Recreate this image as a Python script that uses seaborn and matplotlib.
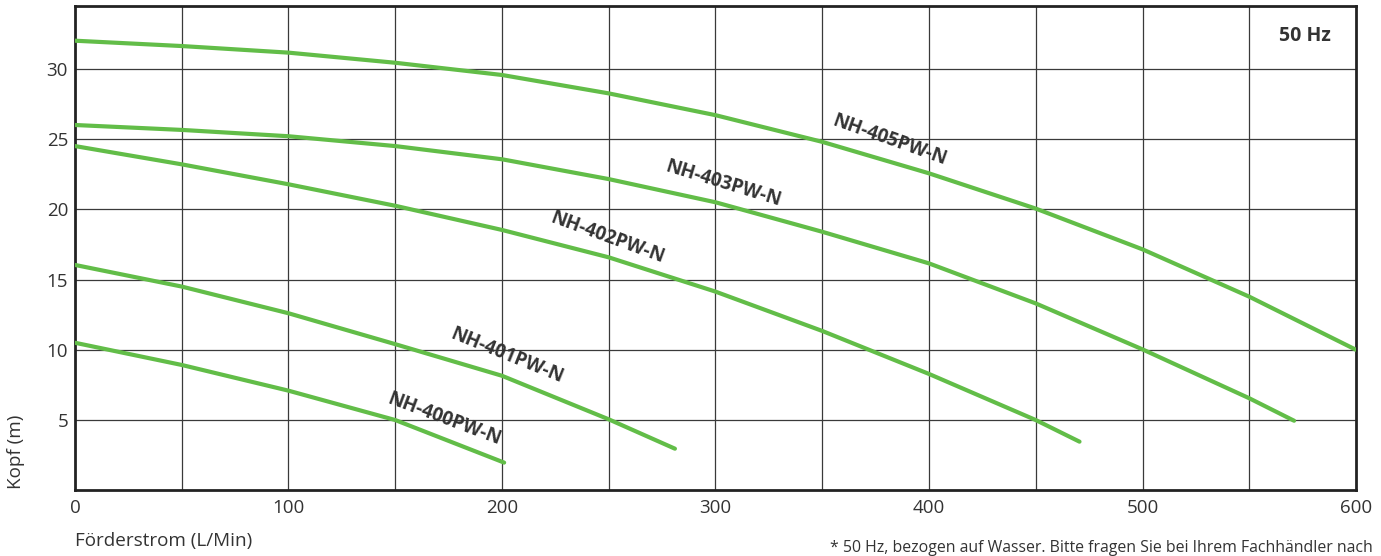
import pandas as pd
import numpy as np
import seaborn as sns
import matplotlib.pyplot as plt

# pump curves: flow (L/min) vs head (m)
q400 = [0, 50, 100, 150, 201]
h400 = [10.5, 8.92, 7.09, 5.0, 1.97]

q401 = [0, 50, 100, 150, 200, 250, 281]
h401 = [16.04, 14.5, 12.6, 10.4, 8.15, 5.05, 2.96]

q402 = [0, 50, 100, 150, 200, 250, 300, 350, 400, 450, 470.5]
h402 = [24.5, 23.2, 21.78, 20.25, 18.53, 16.58, 14.14, 11.34, 8.28, 5.0, 3.46]

q403 = [0, 50, 100, 150, 200, 250, 300, 350, 400, 450, 500, 550, 571]
h403 = [26.0, 25.65, 25.2, 24.5, 23.56, 22.15, 20.5, 18.4, 16.15, 13.3, 10.03, 6.55, 4.95]

q405 = [0, 50, 100, 150, 200, 250, 300, 350, 400, 450, 500, 550, 600]
h405 = [32.0, 31.62, 31.15, 30.43, 29.56, 28.25, 26.7, 24.8, 22.56, 20.05, 17.15, 13.78, 10.0]

models = ['NH-400PW-N', 'NH-401PW-N', 'NH-402PW-N', 'NH-403PW-N', 'NH-405PW-N']
flows = [q400, q401, q402, q403, q405]
heads = [h400, h401, h402, h403, h405]

# label centres (data coords) and angles
label_x = [172.8, 202.1, 249.4, 303.5, 381.3]
label_y = [5.07, 9.56, 18.0, 21.8, 24.93]
label_rot = [-20.5, -22, -20, -17, -19.5]

x_ticks = [0, 100, 200, 300, 400, 500, 600]
y_ticks = [5, 10, 15, 20, 25, 30]

frames = []
for m, q, h in zip(models, flows, heads):
    frames.append(pd.DataFrame({'model': m, 'flow': q, 'head': h}))
df = pd.concat(frames, ignore_index=True)

sns.set_style('white')
plt.rcParams['font.family'] = ['Open Sans', 'DejaVu Sans']

green = '#62bd48'
ink = '#333333'

fig = plt.figure(figsize=(13.81, 5.56), dpi=100)
ax = fig.add_axes([0.0543, 0.1182, 0.9276, 0.8705])

# grid first so curves sit on top
for gx in range(50, 600, 50):
    ax.axvline(gx, color='#3a3a3a', lw=0.9, zorder=1)
for gy in y_ticks:
    ax.axhline(gy, color='#3a3a3a', lw=0.9, zorder=1)

sns.lineplot(data=df, x='flow', y='head', hue='model', units='model',
             estimator=None, sort=False, palette=[green] * 5,
             linewidth=3.0, legend=False, ax=ax, zorder=3)
for ln in ax.lines[-5:]:
    ln.set_solid_joinstyle('round')

for m, lx, ly, r in zip(models, label_x, label_y, label_rot):
    ax.text(lx, ly, m, rotation=r, rotation_mode='anchor', ha='center', va='center',
            fontsize=13.6, fontweight='bold', color=ink, zorder=4)

ax.text(588, 32.3, '50 Hz', ha='right', va='center', fontsize=14,
        fontweight='bold', color=ink)

ax.set_xlim(0, 600)
ax.set_ylim(0, 34.45)
ax.set_xticks(x_ticks)
ax.set_yticks(y_ticks)
ax.tick_params(axis='both', labelsize=13.5, colors=ink, length=3, width=0.9, pad=2)
ax.tick_params(axis='x', length=0, pad=6)
ax.set_xlabel('')
ax.set_ylabel('')
for s in ax.spines.values():
    s.set_visible(True)
    s.set_color('#222222')
    s.set_linewidth(2.0)

fig.text(0.0543, 0.027, 'Förderstrom (L/Min)', ha='left', va='center', fontsize=13.6, color=ink)
fig.text(0.0116, 0.187, 'Kopf (m)', ha='center', va='center', rotation=90, fontsize=13.6, color=ink)
fig.text(0.601, 0.008, '* 50 Hz, bezogen auf Wasser. Bitte fragen Sie bei Ihrem Fachhändler nach',
         ha='left', va='baseline', fontsize=11.4, color=ink)

fig.savefig('out.png', dpi=100)
